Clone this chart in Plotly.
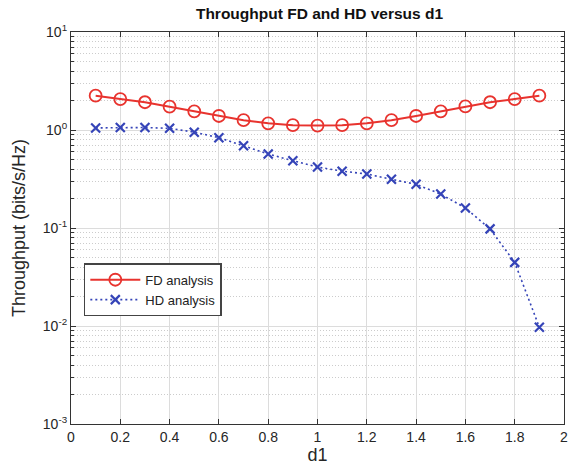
import plotly.graph_objects as go

d1 = [0.1, 0.2, 0.3, 0.4, 0.5, 0.6, 0.7, 0.8, 0.9, 1.0,
      1.1, 1.2, 1.3, 1.4, 1.5, 1.6, 1.7, 1.8, 1.9]
fd_throughput = [2.24, 2.07, 1.92, 1.73, 1.55, 1.39, 1.26, 1.17, 1.12, 1.11,
                 1.12, 1.17, 1.26, 1.39, 1.55, 1.74, 1.92, 2.07, 2.24]
hd_throughput = [1.05, 1.06, 1.06, 1.04, 0.95, 0.835, 0.69, 0.569, 0.486, 0.419,
                 0.38, 0.356, 0.314, 0.279, 0.222, 0.16, 0.098, 0.0446, 0.0097]
x_ticks = [0, 0.2, 0.4, 0.6, 0.8, 1, 1.2, 1.4, 1.6, 1.8, 2]
y_ticks = [0.001, 0.01, 0.1, 1, 10]
y_tick_labels = ["10<sup>-3</sup>", "10<sup>-2</sup>", "10<sup>-1</sup>",
                 "10<sup>0</sup>", "10<sup>1</sup>"]

RED = "#e8332e"
BLUE = "#3544b8"
FONT = "Liberation Sans, Arial, sans-serif"

fig = go.Figure()
fig.add_trace(go.Scatter(
    x=d1, y=fd_throughput, name="FD analysis", mode="lines+markers",
    line=dict(color=RED, width=2),
    marker=dict(symbol="circle-open", size=12, color=RED, line=dict(width=1.8, color=RED)),
))
fig.add_trace(go.Scatter(
    x=d1, y=hd_throughput, name="HD analysis", mode="lines+markers",
    line=dict(color=BLUE, width=1.6, dash="2px,3px"),
    marker=dict(symbol="x-thin-open", size=9, color=BLUE, line=dict(width=2.2, color=BLUE)),
))

fig.update_layout(
    width=575, height=471,
    margin=dict(l=71, r=7, t=32, b=47),
    paper_bgcolor="white", plot_bgcolor="white",
    font=dict(family=FONT, size=14, color="#262626"),
    title=dict(text="<b>Throughput FD and HD versus d1</b>", x=0.5 + (71 - 7) / 2 / 575,
               xanchor="center", y=1 - 14 / 471, yanchor="middle",
               font=dict(size=15.5, color="#111111")),
    showlegend=True,
    legend=dict(x=0.026, y=0.41, xanchor="left", yanchor="top",
                bgcolor="white", bordercolor="#444444", borderwidth=1.5,
                font=dict(size=13, color="#222222"), tracegroupgap=0,
                itemwidth=50),
)
fig.update_xaxes(
    range=[0, 2], tickvals=x_ticks, ticktext=[f"{v:g}" for v in x_ticks],
    showgrid=True, gridcolor="#dcdcdc", gridwidth=1,
    showline=True, linecolor="#333333", linewidth=1.2, mirror="allticks",
    ticks="inside", ticklen=5, tickcolor="#333333",
    tickfont=dict(size=14),
    title=dict(text="d1", font=dict(size=18), standoff=4),
    zeroline=False,
)
fig.update_yaxes(
    type="log", range=[-3, 1], tickvals=y_ticks, ticktext=y_tick_labels,
    showgrid=True, gridcolor="#dcdcdc", gridwidth=1,
    showline=True, linecolor="#333333", linewidth=1.2, mirror="allticks",
    ticks="inside", ticklen=5, tickcolor="#333333",
    tickfont=dict(size=14),
    minor=dict(dtick="D1", showgrid=True, gridcolor="#cccccc", griddash="1px,2px",
               ticks="inside", ticklen=3, tickcolor="#333333"),
    title=dict(text="Throughput (bits/s/Hz)", font=dict(size=18), standoff=12),
    zeroline=False,
)

fig.write_html("out.html")
